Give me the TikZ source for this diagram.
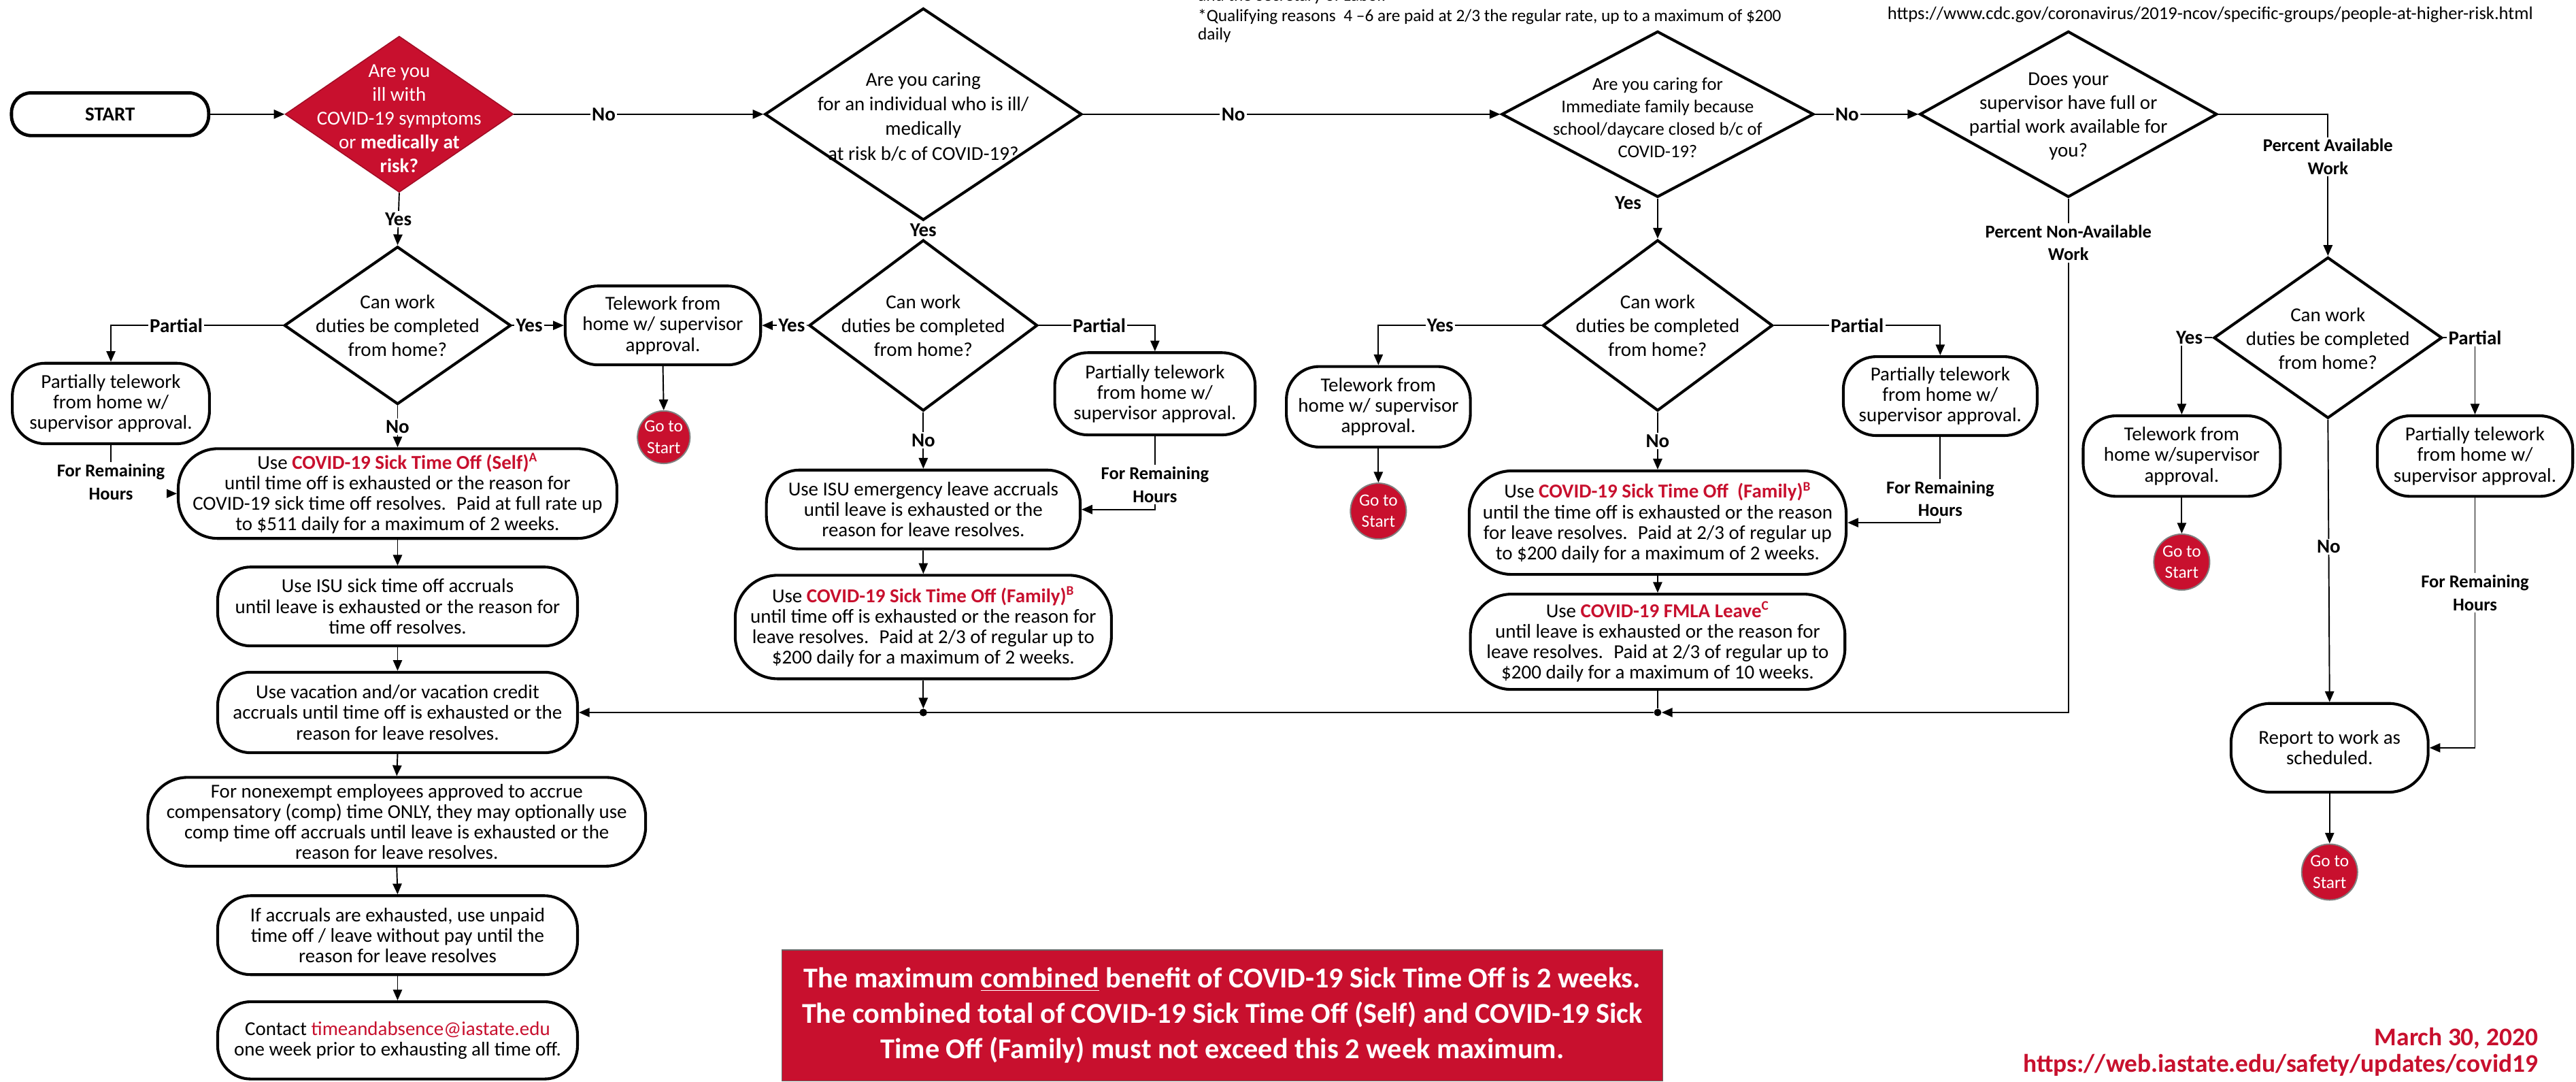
\documentclass[tikz,border=0pt]{standalone}
\usepackage{fontspec}
\setmainfont{Carlito}
\usetikzlibrary{shapes.geometric,arrows.meta}
\definecolor{isured}{RGB}{200,16,46}
\newcommand{\cvd}[1]{\textcolor{isured}{\textbf{#1}}}

\begin{document}
\begin{tikzpicture}[x=1pt, y=-1pt,
    every node/.style={font=\fontsize{12}{12.5}\selectfont},
    proc/.style={draw, line width=1.7pt, rounded corners=20pt, align=center, inner sep=0pt},
    decision/.style={diamond, draw, line width=1.7pt, inner sep=0pt},
    qtext/.style={align=center, font=\fontsize{12}{14.5}\selectfont},
    gostart/.style={circle, fill=isured, draw=gray, line width=0.8pt, minimum size=34pt, inner sep=0pt,
        text=white, align=center, font=\fontsize{10.5}{13}\selectfont},
    arr/.style={line width=0.8pt, -{Triangle[length=6.5pt,width=5.5pt]}},
    link/.style={line width=0.8pt},
    lbl/.style={fill=white, inner sep=1pt, font=\bfseries\fontsize{12}{13}\selectfont},
    lblsm/.style={fill=white, inner sep=1pt, align=center, font=\bfseries\fontsize{11}{14}\selectfont},
    dot/.style={circle, fill, inner sep=0pt, minimum size=4.5pt}]

    \fill[white] (0,0) rectangle (1568,658);
    \useasboundingbox (0,0) rectangle (1568,658);

    % Notes at the top
    \node[anchor=west, inner sep=0pt, font=\fontsize{10.5}{11}\selectfont] (notea) at (729,-2) {and the Secretary of Labor.};
    \node[anchor=north west, inner sep=0pt, align=left, font=\fontsize{10.5}{11}\selectfont] (noteb) at (729,5.5)
        {*Qualifying reasons\ \ 4 --6 are paid at 2/3 the regular rate, up to a maximum of \$200\\ daily};
    \node[anchor=east, inner sep=0pt, font=\fontsize{11}{12}\selectfont] (cdc) at (1542,9)
        {https://www.cdc.gov/coronavirus/2019-ncov/specific-groups/people-at-higher-risk.html};

    % First row of questions
    \node[proc, line width=2pt, rounded corners=12pt, minimum width=120pt, minimum height=26pt,
        font=\bfseries\fontsize{12}{13}\selectfont] (start) at (67,69.5) {START};
    \node[decision, fill=isured, draw=isured!80!black, line width=0.6pt, minimum width=139pt, minimum height=95pt] (q1) at (243,69.5) {};
    \node[qtext, text=white] (q1txt) at (243,72) {Are you\\ ill with\\ COVID-19 symptoms\\ or \textbf{medically at}\\ \textbf{risk?}};
    \node[decision, minimum width=193pt, minimum height=129pt] (q2) at (562,69.5) {};
    \node[qtext, font=\fontsize{12}{15}\selectfont] (q2txt) at (562,71) {Are you caring\\ for an individual who is ill/\\ medically\\ at risk b/c of COVID-19?};
    \node[decision, minimum width=190pt, minimum height=101pt] (q3) at (1009,69.5) {};
    \node[qtext, font=\fontsize{11}{13.7}\selectfont] (q3txt) at (1009,71.5) {Are you caring for\\ Immediate family because\\ school/daycare closed b/c of\\ COVID-19?};
    \node[decision, minimum width=181pt, minimum height=101pt] (q4) at (1259,69.5) {};
    \node[qtext] (q4txt) at (1259,71) {Does your\\ supervisor have full or\\ partial work available for\\ you?};

    % Self column
    \node[decision, minimum width=138pt, minimum height=96pt] (qA) at (242,198) {};
    \node[qtext] (qAtxt) at (242,198) {Can work\\ duties be completed\\ from home?};
    \node[proc, minimum width=120pt, minimum height=49pt] (partA) at (67.5,245.5) {Partially telework\\ from home w/\\ supervisor approval.};
    \node[proc, minimum width=119pt, minimum height=48pt] (teleB) at (403.5,198) {Telework from\\ home w/ supervisor\\ approval.};
    \node[gostart, minimum size=32pt] (goB) at (404,266) {Go to\\ Start};
    \node[proc, minimum width=267pt, minimum height=54.6pt, rounded corners=24pt] (self) at (242,300.3)
        {Use \cvd{COVID-19 Sick Time Off (Self)}\textsuperscript{\cvd{A}}\\ until time off is exhausted or the reason for\\
         COVID-19 sick time off resolves.~ Paid at full rate up\\ to \$511 daily for a maximum of 2 weeks.};
    \node[proc, minimum width=219pt, minimum height=48pt] (sick) at (242,369)
        {Use ISU sick time off accruals\\ until leave is exhausted or the reason for\\ time off resolves.};
    \node[proc, minimum width=219pt, minimum height=49pt] (vac) at (242,433.5)
        {Use vacation and/or vacation credit\\ accruals until time off is exhausted or the\\ reason for leave resolves.};
    \node[proc, minimum width=303pt, minimum height=54pt, rounded corners=24pt] (nonex) at (241.5,500)
        {For nonexempt employees approved to accrue\\ compensatory (comp) time ONLY, they may optionally use\\
         comp time off accruals until leave is exhausted or the\\ reason for leave resolves.};
    \node[proc, minimum width=219pt, minimum height=48pt] (accr) at (242,569)
        {If accruals are exhausted, use unpaid\\ time off / leave without pay until the\\ reason for leave resolves};
    \node[proc, minimum width=219pt, minimum height=47pt] (contact) at (242,633)
        {Contact \textcolor{isured}{timeandabsence@iastate.edu}\\ one week prior to exhausting all time off.};

    % Caring for an individual
    \node[decision, minimum width=139pt, minimum height=104pt] (qB) at (562,198) {};
    \node[qtext] (qBtxt) at (562,198) {Can work\\ duties be completed\\ from home?};
    \node[proc, minimum width=122pt, minimum height=50pt] (partB) at (703,239.6) {Partially telework\\ from home w/\\ supervisor approval.};
    \node[proc, minimum width=191pt, minimum height=48pt] (emerg) at (562,310)
        {Use ISU emergency leave accruals\\ until leave is exhausted or the\\ reason for leave resolves.};
    \node[proc, minimum width=229pt, minimum height=63pt, rounded corners=26pt] (famB) at (562,381.5)
        {Use \cvd{COVID-19 Sick Time Off (Family)}\textsuperscript{\cvd{B}}\\ until time off is exhausted or the reason for\\
         leave resolves.~ Paid at 2/3 of regular up to\\ \$200 daily for a maximum of 2 weeks.};
    \node[dot] (j1) at (562,433.5) {};

    % Caring for family
    \node[decision, minimum width=140pt, minimum height=104pt] (qC) at (1009,198) {};
    \node[qtext] (qCtxt) at (1009,198) {Can work\\ duties be completed\\ from home?};
    \node[proc, minimum width=112pt, minimum height=49pt] (teleC) at (839,247.5) {Telework from\\ home w/ supervisor\\ approval.};
    \node[gostart] (goC) at (839,311) {Go to\\ Start};
    \node[proc, minimum width=118pt, minimum height=48pt] (partC) at (1181,241) {Partially telework\\ from home w/\\ supervisor approval.};
    \node[proc, minimum width=229.5pt, minimum height=63pt, rounded corners=26pt] (famC) at (1009,318)
        {Use \cvd{COVID-19 Sick Time Off~ (Family)}\textsuperscript{\cvd{B}}\\ until the time off is exhausted or the reason\\
         for leave resolves.~ Paid at 2/3 of regular up\\ to \$200 daily for a maximum of 2 weeks.};
    \node[proc, minimum width=228pt, minimum height=58pt, rounded corners=25pt] (fmla) at (1009,390.5)
        {Use \cvd{COVID-19 FMLA Leave}\textsuperscript{\cvd{C}}\\ until leave is exhausted or the reason for\\
         leave resolves.~ Paid at 2/3 of regular up to\\ \$200 daily for a maximum of 10 weeks.};
    \node[dot] (j2) at (1009,433.5) {};
    \coordinate (nonav) at (1259,433.5);

    % Available work
    \node[decision, minimum width=139pt, minimum height=98pt] (qD) at (1417,205.5) {};
    \node[qtext] (qDtxt) at (1417,206) {Can work\\ duties be completed\\ from home?};
    \node[proc, minimum width=120pt, minimum height=49pt] (teleD) at (1328,277.5) {Telework from\\ home w/supervisor\\ approval.};
    \node[gostart] (goD) at (1328,342) {Go to\\ Start};
    \node[proc, minimum width=119pt, minimum height=49pt] (partD) at (1506.5,277.5) {Partially telework\\ from home w/\\ supervisor approval.};
    \node[proc, minimum width=120pt, minimum height=54pt, rounded corners=24pt] (report) at (1418,455) {Report to work as\\ scheduled.};
    \node[gostart] (goE) at (1418,530.6) {Go to\\ Start};

    % Connectors, first row
    \draw[arr] (start.east) -- (q1.west);
    \draw[arr] (q1.east) -- node[lbl, pos=0.36] {No} (q2.west);
    \draw[arr] (q2.east) -- node[lbl, pos=0.36] {No} (q3.west);
    \draw[arr] (q3.east) -- node[lbl, pos=0.31] {No} (q4.west);

    % Connectors, self column
    \draw[arr] (q1.south) -- node[lbl] {Yes} (qA.north);
    \draw[arr] (qA.west) -| node[lbl, pos=0.31] {Partial} (partA.north);
    \draw[arr] (qA.east) -- node[lbl, pos=0.33] {Yes} (teleB.west);
    \draw[arr] (qA.south) -- node[lbl] {No} (self.north);
    \draw[arr] (partA.south) |- node[lblsm, pos=0.38] {For Remaining\\Hours} (self.west);
    \draw[arr] (teleB.south) -- (goB.north);
    \draw[arr] (self.south) -- (sick.north);
    \draw[arr] (sick.south) -- (vac.north);
    \draw[arr] (vac.south) -- (nonex.north);
    \draw[arr] (nonex.south) -- (accr.north);
    \draw[arr] (accr.south) -- (contact.north);

    % Connectors, individual column
    \draw[arr] (q2.south) -- node[lbl] {Yes} (qB.north);
    \draw[arr] (qB.west) -- node[lbl, pos=0.35] {Yes} (teleB.east);
    \draw[arr] (qB.east) -| node[lbl, pos=0.26] {Partial} (partB.north);
    \draw[arr] (qB.south) -- node[lbl] {No} (emerg.north);
    \draw[arr] (partB.south) |- node[lblsm, pos=0.33] {For Remaining\\Hours} (emerg.east);
    \draw[arr] (emerg.south) -- (famB.north);
    \draw[arr] (famB.south) -- (j1);

    % Connectors, family column
    \draw[arr] (q3.south) -- node[lbl, pos=0.1, xshift=-18pt] {Yes} (qC.north);
    \draw[arr] (qC.west) -| node[lbl, pos=0.31] {Yes} (teleC.north);
    \draw[arr] (teleC.south) -- (goC.north);
    \draw[arr] (qC.east) -| node[lbl, pos=0.25] {Partial} (partC.north);
    \draw[arr] (partC.south) |- node[lblsm, pos=0.36] {For Remaining\\Hours} (famC.east);
    \draw[arr] (qC.south) -- node[lbl] {No} (famC.north);
    \draw[arr] (famC.south) -- (fmla.north);
    \draw[link] (fmla.south) -- (j2);

    % Connectors, available work
    \draw[arr] (q4.east) -| node[lblsm, pos=0.65] {Percent Available\\Work} (qD.north);
    \draw[arr] (q4.south) -- node[lblsm, pos=0.086] {Percent Non-Available\\Work} (nonav) -- (j2);
    \draw[arr] (j2) -- (vac.east);
    \node[dot] (j1top) at (j1) {};
    \draw[arr] (qD.west) -| node[lbl, pos=0.375] {Yes} (teleD.north);
    \draw[arr] (qD.east) -| node[lbl, pos=0.5] {Partial} (partD.north);
    \draw[arr] (teleD.south) -- (goD.north);
    \draw[arr] (qD.south) -- node[lbl, pos=0.45] {No} (report.north);
    \draw[arr] (partD.south) |- node[lblsm, pos=0.19] {For Remaining\\Hours} (report.east);
    \draw[arr] (report.south) -- (goE.north);

    % Banner and date
    \node[fill=isured, draw=black!60, line width=0.5pt, minimum width=536pt, minimum height=79.6pt, inner sep=0pt,
        text=white, align=center, font=\bfseries\fontsize{17.5}{21.5}\selectfont] (banner) at (744,617.8)
        {The maximum \underline{combined} benefit of COVID-19 Sick Time Off is 2 weeks.\\
         The combined total of COVID-19 Sick Time Off (Self) and COVID-19 Sick\\
         Time Off (Family) must not exceed this 2 week maximum.};
    \node[anchor=east, inner sep=0pt, align=right, text=isured, font=\bfseries\fontsize{15.5}{16}\selectfont] (stamp) at (1545,640)
        {March 30, 2020\\ https://web.iastate.edu/safety/updates/covid19};

\end{tikzpicture}
\end{document}
